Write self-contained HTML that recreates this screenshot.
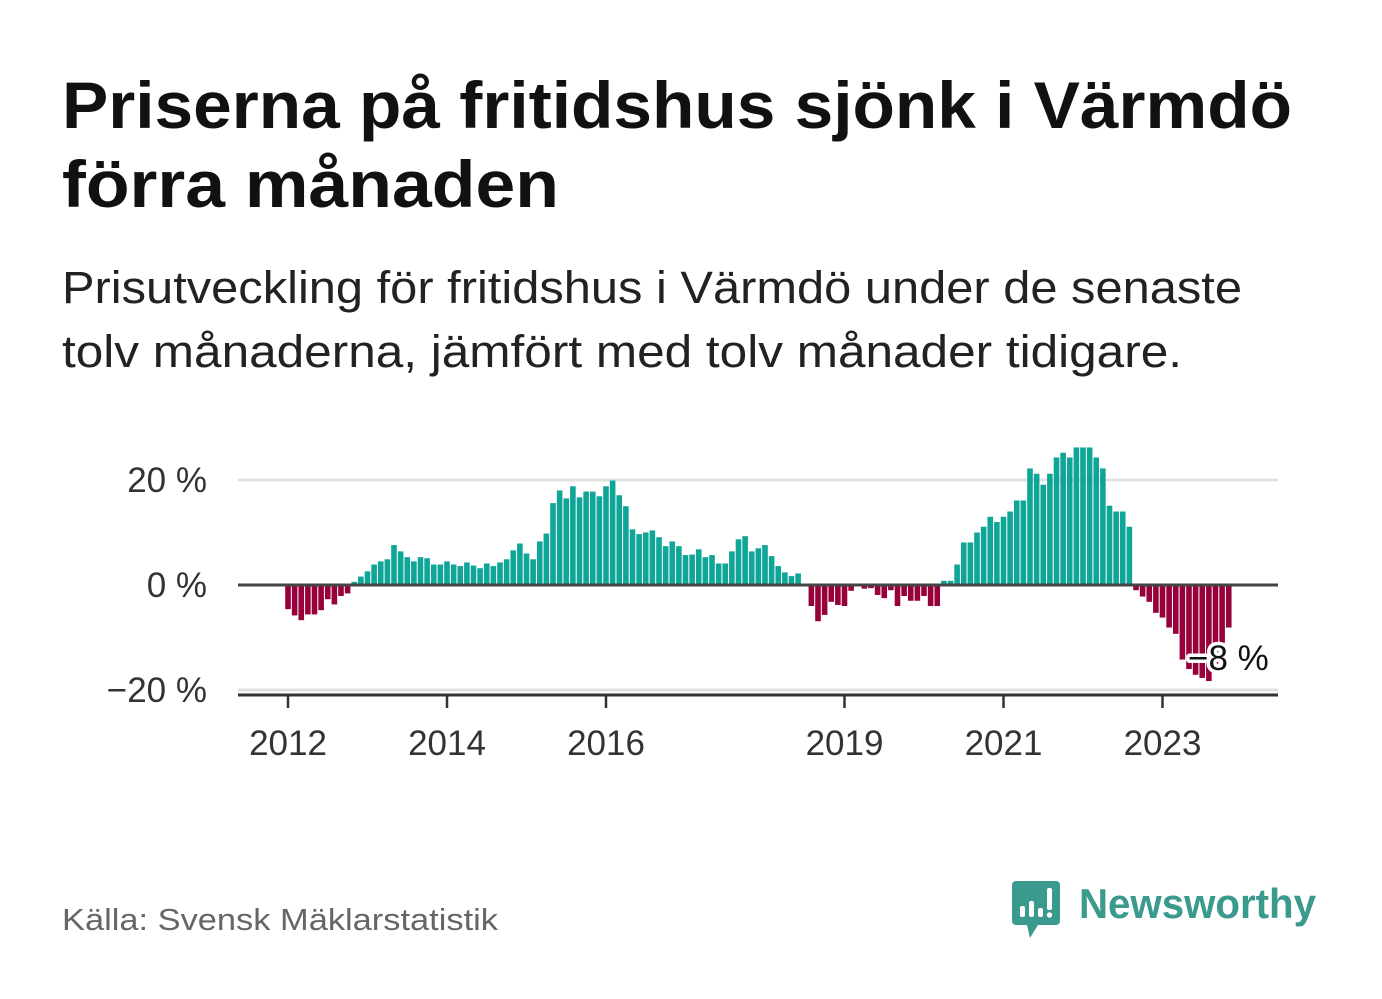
<!DOCTYPE html>
<html><head><meta charset="utf-8">
<style>
html,body{margin:0;padding:0;background:#fff;}
svg{display:block;font-family:"Liberation Sans",sans-serif;}
</style></head>
<body>
<svg id="chart" width="1382" height="999" viewBox="0 0 1382 999">
  <text x="62" y="128" font-size="66" font-weight="bold" fill="#111" textLength="1230" lengthAdjust="spacingAndGlyphs">Priserna på fritidshus sjönk i Värmdö</text>
  <text x="62" y="207" font-size="66" font-weight="bold" fill="#111" textLength="497" lengthAdjust="spacingAndGlyphs">förra månaden</text>
  <text x="62" y="303" font-size="45" fill="#222" textLength="1180" lengthAdjust="spacingAndGlyphs">Prisutveckling för fritidshus i Värmdö under de senaste</text>
  <text x="62" y="367" font-size="45" fill="#222" textLength="1120" lengthAdjust="spacingAndGlyphs">tolv månaderna, jämfört med tolv månader tidigare.</text>
  <g id="grid"></g>
  <g id="bars"></g>
  <g id="axes"></g>
  <text x="62" y="930" font-size="31" fill="#666" textLength="436" lengthAdjust="spacingAndGlyphs">Källa: Svensk Mäklarstatistik</text>
  <g>
    <path d="M1016 881 h40 a4 4 0 0 1 4 4 v36 a4 4 0 0 1 -4 4 h-18 l-8 13 l-3 -13 h-11 a4 4 0 0 1 -4 -4 v-36 a4 4 0 0 1 4 -4z" fill="#3a9a8d"/>
    <rect x="1020" y="906" width="5" height="11" rx="2" fill="#fff"/>
    <rect x="1029" y="901" width="5" height="16" rx="2" fill="#fff"/>
    <rect x="1038" y="908" width="5" height="9" rx="2" fill="#fff"/>
    <rect x="1047" y="888" width="5" height="22" rx="2" fill="#fff"/>
    <circle cx="1049.5" cy="915" r="2.7" fill="#fff"/>
    <text x="1079" y="918" font-size="42" font-weight="bold" fill="#3a9a8d" textLength="237" lengthAdjust="spacingAndGlyphs">Newsworthy</text>
  </g>
</svg>
<script>
const values = [-4.6,-5.8,-6.7,-5.6,-5.6,-4.8,-2.7,-3.7,-2.1,-1.6,0.6,1.6,2.6,3.9,4.5,4.9,7.6,6.4,5.3,4.5,5.3,5.1,3.9,3.9,4.5,3.9,3.6,4.3,3.7,3.2,4.1,3.6,4.3,4.9,6.6,7.9,6.0,4.9,8.3,9.8,15.6,18.0,16.5,18.8,16.7,17.8,17.8,16.9,18.8,19.9,17.1,15.0,10.6,9.7,10.0,10.4,9.1,7.4,8.3,7.4,5.7,5.8,6.8,5.3,5.7,4.1,4.1,6.4,8.7,9.3,6.4,7.0,7.6,5.5,3.6,2.4,1.7,2.2,0,-4.0,-6.9,-5.7,-3.2,-3.8,-4.0,-1.1,-0.2,-0.7,-0.6,-1.9,-2.5,-1.0,-4.0,-2.1,-3.0,-3.0,-2.1,-4.0,-4.0,0.8,0.8,3.9,8.1,8.1,10.0,11.1,13.0,12.0,13.0,14.0,16.1,16.1,22.2,21.2,19.1,21.2,24.3,25.2,24.3,26.2,26.2,26.2,24.3,22.2,15.1,14.0,14.0,11.1,-1.0,-2.2,-3.2,-5.3,-6.2,-8.1,-9.3,-14.2,-16.0,-17.1,-17.7,-18.3,-15.0,-11.0,-8.1];
const startYear = 2012;
const yTicks = [20, 0, -20];
const yTickLabels = ["20 %", "0 %", "−20 %"];
const xTickYears = [2012, 2014, 2016, 2019, 2021, 2023];
const lastLabel = "−8 %";

const NS = "http://www.w3.org/2000/svg";
const X0 = 288, MONTH = 6.625, Y0 = 585, PER = 5.25;
const xScale = i => X0 + i * MONTH;
const yScale = v => Y0 - v * PER;
function mk(tag, attrs, parent) {
  const e = document.createElementNS(NS, tag);
  for (const k in attrs) e.setAttribute(k, attrs[k]);
  parent.appendChild(e);
  return e;
}
const grid = document.getElementById('grid');
const bars = document.getElementById('bars');
const axes = document.getElementById('axes');

yTicks.forEach((t, i) => {
  if (t !== 0) {
    const l = mk('line', {x1: 238, x2: 1278, y1: yScale(t), y2: yScale(t), stroke: '#e0e0e0', 'stroke-width': 3}, grid);
    
    
  }
  const tx = mk('text', {x: 207, y: yScale(t) + 12, 'font-size': 35, fill: '#333', 'text-anchor': 'end'}, axes);
  tx.textContent = yTickLabels[i];
  
  
});

values.forEach((v, i) => {
  const x = xScale(i);
  const y = v >= 0 ? yScale(v) : Y0;
  const h = Math.abs(yScale(v) - Y0);
  const r = mk('rect', {x: x - 2.8, y: y, width: 5.6, height: h, fill: v >= 0 ? '#0fa597' : '#98003c'}, bars);
  
  
});

const zl = mk('line', {x1: 238, x2: 1278, y1: Y0, y2: Y0, stroke: '#444', 'stroke-width': 3}, axes);


const xa = mk('line', {x1: 238, x2: 1278, y1: 695, y2: 695, stroke: '#333', 'stroke-width': 3}, axes);



xTickYears.forEach(yr => {
  const x = xScale((yr - startYear) * 12);
  const t = mk('line', {x1: x, x2: x, y1: 695, y2: 708, stroke: '#333', 'stroke-width': 2.5}, axes);
  
  
  const tx = mk('text', {x: x, y: 755, 'font-size': 35, fill: '#333', 'text-anchor': 'middle'}, axes);
  tx.textContent = String(yr);
  
  
});

const lastX = xScale(values.length - 1);
const lb = mk('text', {x: lastX + 40, y: 670, 'font-size': 35, fill: '#111', 'text-anchor': 'end', stroke: '#fff', 'stroke-width': 7, 'paint-order': 'stroke', 'stroke-linejoin': 'round'}, axes);
lb.textContent = lastLabel;


</script>
</body></html>
